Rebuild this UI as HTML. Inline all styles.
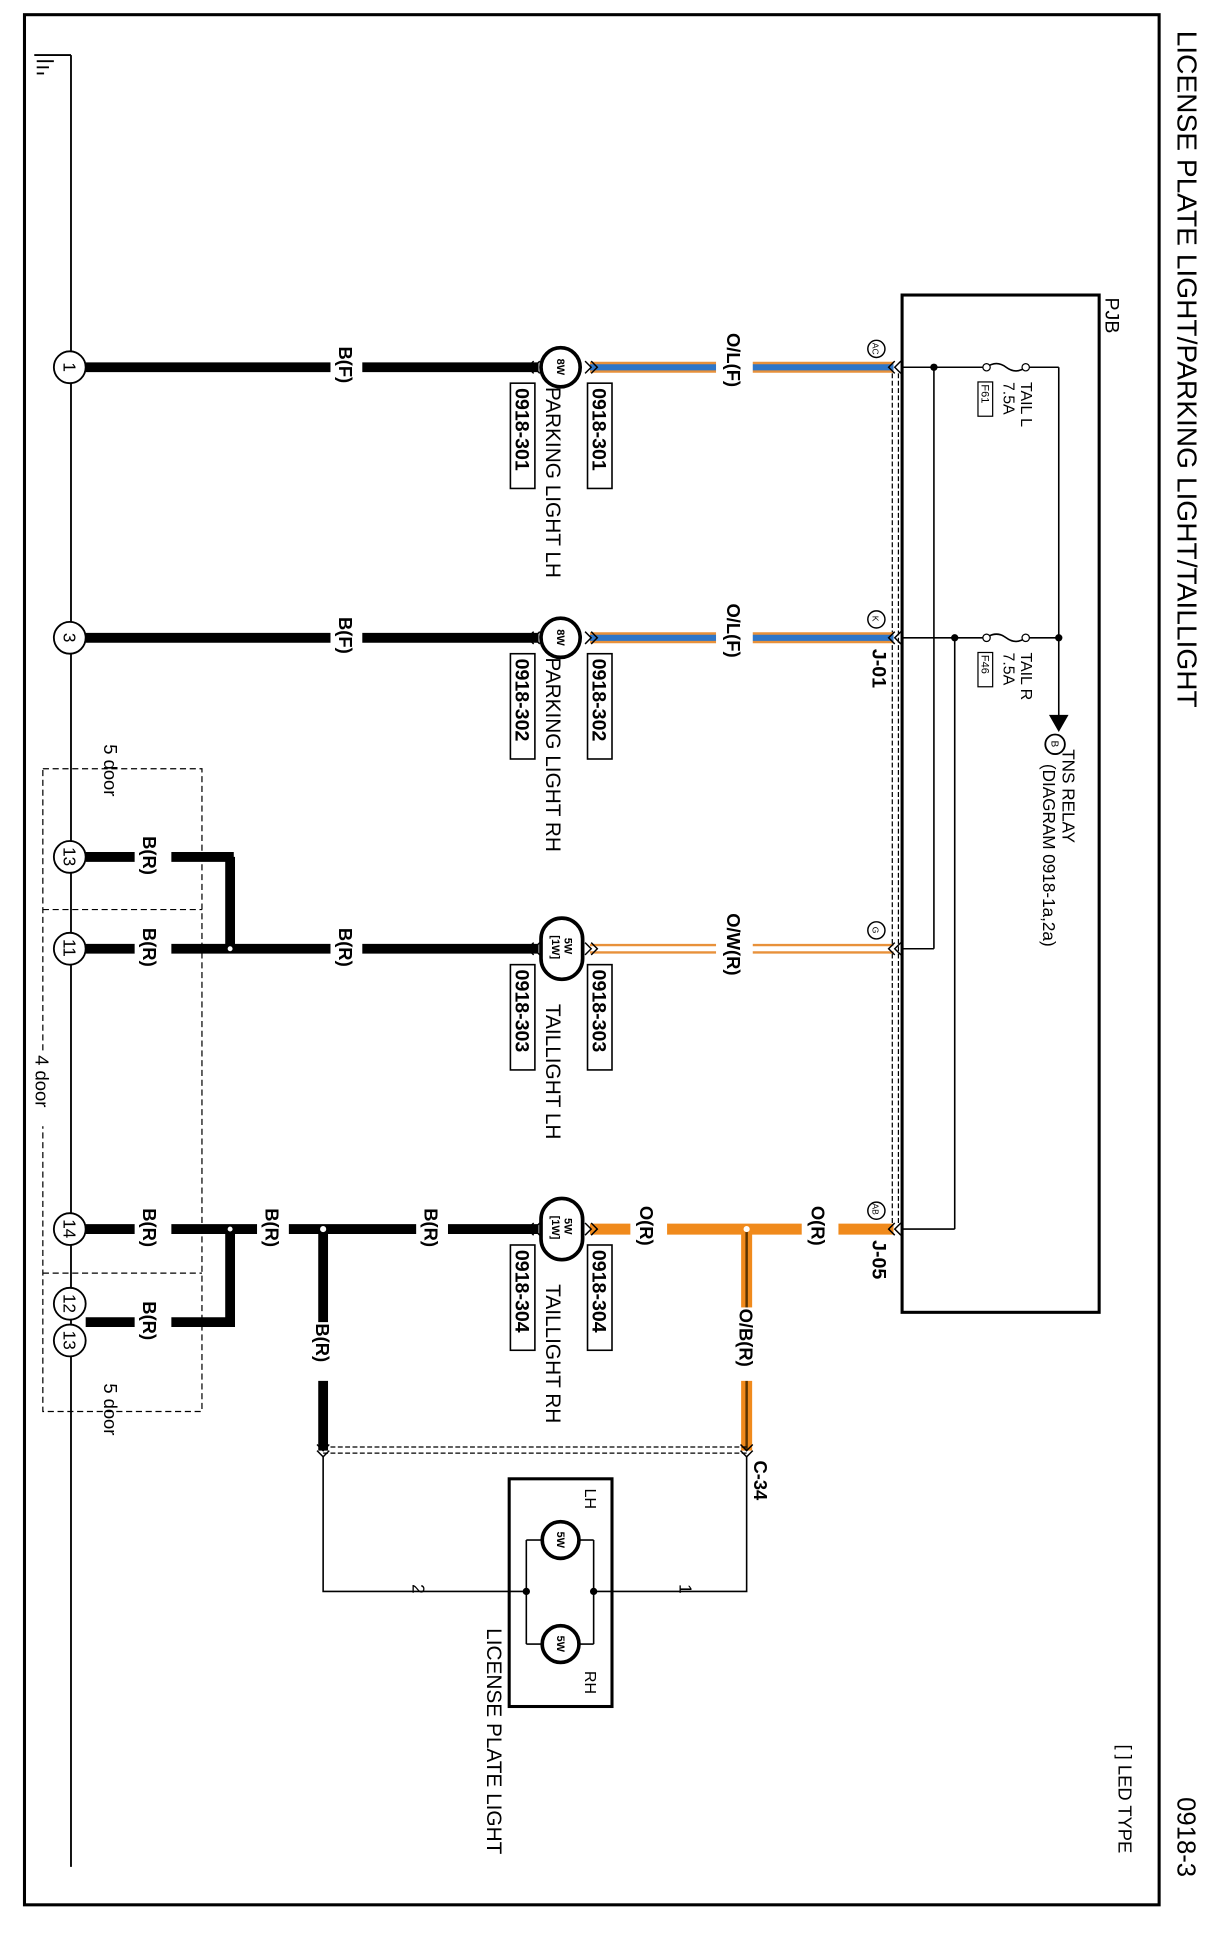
<!DOCTYPE html>
<html><head><meta charset="utf-8"><style>
html,body{margin:0;padding:0;background:#fff}
svg{display:block}
text{font-family:"Liberation Sans",sans-serif;fill:#000}
</style></head><body>
<svg width="1224" height="1944" viewBox="0 0 1000 1588" preserveAspectRatio="none" xmlns="http://www.w3.org/2000/svg">
<rect x="0" y="0" width="1000" height="1588" fill="#fff"/>
<rect x="20" y="12" width="927" height="1544" fill="none" stroke="#000" stroke-width="2.5"/>
<!-- title -->
<text transform="translate(962,25) rotate(90)" font-size="23">LICENSE PLATE LIGHT/PARKING LIGHT/TAILLIGHT</text>
<text transform="translate(962,1468) rotate(90)" font-size="21">0918-3</text>
<text transform="translate(914,1425) rotate(90)" font-size="15">[ ] LED TYPE</text>

<!-- ground -->
<line x1="58" y1="45" x2="58" y2="1525" stroke="#000" stroke-width="1.5"/>
<line x1="28" y1="45" x2="58" y2="45" stroke="#000" stroke-width="1.5"/>
<line x1="30" y1="50" x2="44" y2="50" stroke="#000" stroke-width="1.5"/>
<line x1="30" y1="55" x2="40" y2="55" stroke="#000" stroke-width="1.5"/>
<line x1="30" y1="60" x2="36" y2="60" stroke="#000" stroke-width="1.5"/>

<!-- PJB -->
<rect x="737" y="241" width="161" height="831" fill="none" stroke="#000" stroke-width="2.5"/>
<text transform="translate(903,243) rotate(90)" font-size="16">PJB</text>
<!-- dashed connector housing -->
<line x1="729" y1="305" x2="729" y2="1000" stroke="#000" stroke-width="1" stroke-dasharray="4,2"/>
<line x1="734" y1="305" x2="734" y2="1000" stroke="#000" stroke-width="1" stroke-dasharray="4,2"/>

<!-- internal PJB wiring -->
<g stroke="#000" stroke-width="1.3" fill="none">
<line x1="737" y1="300" x2="806" y2="300"/>
<line x1="737" y1="521" x2="806" y2="521"/>
<path d="M806,300 q8,-6 16,0 t16,0"/>
<path d="M806,521 q8,-6 16,0 t16,0"/>
<line x1="838" y1="300" x2="865" y2="300"/>
<line x1="838" y1="521" x2="865" y2="521"/>
<line x1="865" y1="300" x2="865" y2="585"/>
<line x1="763" y1="300" x2="763" y2="775"/>
<line x1="737" y1="775" x2="763" y2="775"/>
<line x1="780" y1="521" x2="780" y2="1004"/>
<line x1="737" y1="1004" x2="780" y2="1004"/>
</g>
<circle cx="763" cy="300" r="3" fill="#000"/>
<circle cx="780" cy="521" r="3" fill="#000"/>
<circle cx="865" cy="521" r="3" fill="#000"/>
<circle cx="806" cy="300" r="3" fill="#fff" stroke="#000"/>
<circle cx="838" cy="300" r="3" fill="#fff" stroke="#000"/>
<circle cx="806" cy="521" r="3" fill="#fff" stroke="#000"/>
<circle cx="838" cy="521" r="3" fill="#fff" stroke="#000"/>
<polygon points="857,584 873,584 865,598" fill="#000"/>
<circle cx="862" cy="608" r="8" fill="#fff" stroke="#000" stroke-width="1.5"/>
<text transform="translate(859,605) rotate(90)" font-size="8">B</text>
<text transform="translate(868,612) rotate(90)" font-size="14">TNS RELAY</text>
<text transform="translate(852,624) rotate(90)" font-size="14">(DIAGRAM 0918-1a,2a)</text>
<text transform="translate(834,312) rotate(90)" font-size="13">TAIL L</text>
<text transform="translate(820,312) rotate(90)" font-size="13">7.5A</text>
<rect x="799" y="312" width="12" height="28" fill="none" stroke="#000"/>
<text transform="translate(802,314) rotate(90)" font-size="9">F61</text>
<text transform="translate(834,533) rotate(90)" font-size="13">TAIL R</text>
<text transform="translate(820,533) rotate(90)" font-size="13">7.5A</text>
<rect x="799" y="533" width="12" height="28" fill="none" stroke="#000"/>
<text transform="translate(802,535) rotate(90)" font-size="9">F46</text>

<!-- blue/orange wires -->
<g>
<line x1="482" y1="300" x2="730" y2="300" stroke="#e8913a" stroke-width="9"/>
<line x1="482" y1="300" x2="730" y2="300" stroke="#2f76c7" stroke-width="5"/>
<line x1="482" y1="521" x2="730" y2="521" stroke="#e8913a" stroke-width="9"/>
<line x1="482" y1="521" x2="730" y2="521" stroke="#2f76c7" stroke-width="5"/>
<line x1="482" y1="775" x2="730" y2="775" stroke="#e8913a" stroke-width="8"/>
<line x1="482" y1="775" x2="730" y2="775" stroke="#fff" stroke-width="4"/>
<line x1="482" y1="1004" x2="730" y2="1004" stroke="#f08a1c" stroke-width="9"/>
<line x1="610" y1="1004" x2="610" y2="1185" stroke="#f08a1c" stroke-width="9"/>
<line x1="610" y1="1004" x2="610" y2="1185" stroke="#5a3300" stroke-width="2"/>
</g>
<!-- black wires -->
<g stroke="#000" stroke-width="8">
<line x1="70" y1="300" x2="440" y2="300"/>
<line x1="70" y1="521" x2="440" y2="521"/>
<line x1="70" y1="775" x2="440" y2="775"/>
<line x1="70" y1="1004" x2="440" y2="1004"/>
<line x1="70" y1="700" x2="191" y2="700"/>
<line x1="188" y1="700" x2="188" y2="775"/>
<line x1="70" y1="1080" x2="191" y2="1080"/>
<line x1="188" y1="1004" x2="188" y2="1084"/>
<line x1="264" y1="1004" x2="264" y2="1185"/>
</g>
<circle cx="188" cy="775" r="2" fill="#fff"/>
<circle cx="188" cy="1004" r="2" fill="#fff"/>
<circle cx="264" cy="1004" r="2.5" fill="#fff"/>
<circle cx="610" cy="1004" r="2.5" fill="#fff"/>

<!-- wire label gaps -->
<g fill="#fff">
<rect x="270" y="282" width="26" height="38"/><rect x="270" y="503" width="26" height="38"/>
<rect x="270" y="757" width="26" height="38"/><rect x="340" y="986" width="26" height="38"/>
<rect x="210" y="986" width="26" height="38"/>
<rect x="110" y="682" width="30" height="38"/><rect x="110" y="757" width="30" height="38"/>
<rect x="110" y="986" width="30" height="38"/><rect x="110" y="1062" width="30" height="38"/>
<rect x="585" y="270" width="30" height="60"/><rect x="585" y="491" width="30" height="60"/>
<rect x="585" y="745" width="30" height="60"/><rect x="655" y="984" width="30" height="40"/>
<rect x="515" y="984" width="30" height="40"/>
<rect x="250" y="1080" width="28" height="48"/><rect x="596" y="1068" width="28" height="60"/>
</g>
<g font-size="15" font-weight="bold">
<text transform="translate(277,283) rotate(90)">B(F)</text>
<text transform="translate(277,504) rotate(90)">B(F)</text>
<text transform="translate(277,758) rotate(90)">B(R)</text>
<text transform="translate(347,987) rotate(90)">B(R)</text>
<text transform="translate(217,987) rotate(90)">B(R)</text>
<text transform="translate(117,683) rotate(90)">B(R)</text>
<text transform="translate(117,758) rotate(90)">B(R)</text>
<text transform="translate(117,987) rotate(90)">B(R)</text>
<text transform="translate(117,1063) rotate(90)">B(R)</text>
<text transform="translate(594,272) rotate(90)">O/L(F)</text>
<text transform="translate(594,493) rotate(90)">O/L(F)</text>
<text transform="translate(594,746) rotate(90)">O/W(R)</text>
<text transform="translate(663,985) rotate(90)">O(R)</text>
<text transform="translate(523,985) rotate(90)">O(R)</text>
<text transform="translate(258,1081) rotate(90)">B(R)</text>
<text transform="translate(604,1069) rotate(90)">O/B(R)</text>
</g>

<!-- connector chevrons -->
<g stroke="#000" stroke-width="1.2" fill="none">
<path d="M436,295 l-5,5 l5,5 M441,295 l-5,5 l5,5"/>
<path d="M436,516 l-5,5 l5,5 M441,516 l-5,5 l5,5"/>
<path d="M436,770 l-5,5 l5,5 M441,770 l-5,5 l5,5"/>
<path d="M436,999 l-5,5 l5,5 M441,999 l-5,5 l5,5"/>
<path d="M478,295 l5,5 l-5,5 M483,295 l5,5 l-5,5"/>
<path d="M478,516 l5,5 l-5,5 M483,516 l5,5 l-5,5"/>
<path d="M478,770 l5,5 l-5,5 M483,770 l5,5 l-5,5"/>
<path d="M478,999 l5,5 l-5,5 M483,999 l5,5 l-5,5"/>
<path d="M731,295 l-5,5 l5,5 M736,295 l-5,5 l5,5"/>
<path d="M731,516 l-5,5 l5,5 M736,516 l-5,5 l5,5"/>
<path d="M731,770 l-5,5 l5,5 M736,770 l-5,5 l5,5"/>
<path d="M731,999 l-5,5 l5,5 M736,999 l-5,5 l5,5"/>
<path d="M259,1180 l5,5 l5,-5 M259,1185 l5,5 l5,-5"/>
<path d="M605,1180 l5,5 l5,-5 M605,1185 l5,5 l5,-5"/>
</g>
<!-- pin circles at PJB -->
<g fill="#fff" stroke="#000" stroke-width="1.2">
<circle cx="716" cy="285" r="7"/><circle cx="716" cy="506" r="7"/><circle cx="716" cy="760" r="7"/><circle cx="716" cy="989" r="7"/>
</g>
<g font-size="7">
<text transform="translate(713,280) rotate(90)">AC</text>
<text transform="translate(713,503) rotate(90)">K</text>
<text transform="translate(713,757) rotate(90)">G</text>
<text transform="translate(713,983) rotate(90)">AB</text>
</g>
<text transform="translate(713,530) rotate(90)" font-size="16" font-weight="bold">J-01</text>
<text transform="translate(713,1013) rotate(90)" font-size="16" font-weight="bold">J-05</text>
<text transform="translate(616,1193) rotate(90)" font-size="15" font-weight="bold">C-34</text>

<!-- bulbs -->
<g fill="#fff" stroke="#000" stroke-width="3">
<circle cx="458" cy="300" r="16"/>
<circle cx="458" cy="521" r="16"/>
<rect x="442" y="750" width="34" height="50" rx="17"/>
<rect x="442" y="979" width="34" height="50" rx="17"/>
</g>
<g font-size="9" font-weight="bold">
<text transform="translate(455,293) rotate(90)">8W</text>
<text transform="translate(455,514) rotate(90)">8W</text>
<text transform="translate(461,766) rotate(90)">5W</text>
<text transform="translate(451,764) rotate(90)">[1W]</text>
<text transform="translate(461,995) rotate(90)">5W</text>
<text transform="translate(451,993) rotate(90)">[1W]</text>
</g>
<!-- connector code boxes -->
<g fill="none" stroke="#000" stroke-width="1.3">
<rect x="480" y="313" width="20" height="86"/><rect x="417" y="313" width="20" height="86"/>
<rect x="480" y="534" width="20" height="86"/><rect x="417" y="534" width="20" height="86"/>
<rect x="480" y="788" width="20" height="86"/><rect x="417" y="788" width="20" height="86"/>
<rect x="480" y="1017" width="20" height="86"/><rect x="417" y="1017" width="20" height="86"/>
</g>
<g font-size="16" font-weight="bold">
<text transform="translate(484,317) rotate(90)">0918-301</text>
<text transform="translate(421,317) rotate(90)">0918-301</text>
<text transform="translate(484,538) rotate(90)">0918-302</text>
<text transform="translate(421,538) rotate(90)">0918-302</text>
<text transform="translate(484,792) rotate(90)">0918-303</text>
<text transform="translate(421,792) rotate(90)">0918-303</text>
<text transform="translate(484,1021) rotate(90)">0918-304</text>
<text transform="translate(421,1021) rotate(90)">0918-304</text>
</g>
<g font-size="17">
<text transform="translate(446,316) rotate(90)">PARKING LIGHT LH</text>
<text transform="translate(446,537) rotate(90)">PARKING LIGHT RH</text>
<text transform="translate(446,820) rotate(90)">TAILLIGHT LH</text>
<text transform="translate(446,1049) rotate(90)">TAILLIGHT RH</text>
</g>

<!-- ground circles -->
<g fill="#fff" stroke="#000" stroke-width="1.5">
<circle cx="57" cy="300" r="13"/><circle cx="57" cy="521" r="13"/>
<circle cx="57" cy="700" r="13"/><circle cx="57" cy="775" r="13"/>
<circle cx="57" cy="1004" r="13"/><circle cx="57" cy="1065" r="13"/><circle cx="57" cy="1095" r="13"/>
</g>
<g font-size="14">
<text transform="translate(52,296) rotate(90)">1</text>
<text transform="translate(52,517) rotate(90)">3</text>
<text transform="translate(52,692) rotate(90)">13</text>
<text transform="translate(52,767) rotate(90)">11</text>
<text transform="translate(52,996) rotate(90)">14</text>
<text transform="translate(52,1057) rotate(90)">12</text>
<text transform="translate(52,1087) rotate(90)">13</text>
</g>
<!-- dashed option boxes -->
<g fill="none" stroke="#000" stroke-width="1" stroke-dasharray="5,3">
<rect x="35" y="628" width="130" height="525"/>
<line x1="35" y1="743" x2="165" y2="743"/>
<line x1="35" y1="1040" x2="165" y2="1040"/>
</g>
<rect x="24" y="860" width="20" height="60" fill="#fff"/>
<text transform="translate(29,862) rotate(90)" font-size="15">4 door</text>
<text transform="translate(85,608) rotate(90)" font-size="15">5 door</text>
<text transform="translate(85,1130) rotate(90)" font-size="15">5 door</text>

<!-- dashed C-34 housing -->
<line x1="264" y1="1182" x2="610" y2="1182" stroke="#000" stroke-width="1" stroke-dasharray="4,2"/>
<line x1="264" y1="1187" x2="610" y2="1187" stroke="#000" stroke-width="1" stroke-dasharray="4,2"/>

<!-- license plate light -->
<g stroke="#000" stroke-width="1.3" fill="none">
<polyline points="264,1190 264,1300 430,1300"/>
<polyline points="610,1190 610,1300 485,1300"/>
<line x1="430" y1="1258" x2="430" y2="1343"/>
<line x1="485" y1="1258" x2="485" y2="1343"/>
<line x1="430" y1="1258" x2="442" y2="1258"/><line x1="474" y1="1258" x2="485" y2="1258"/>
<line x1="430" y1="1343" x2="442" y2="1343"/><line x1="474" y1="1343" x2="485" y2="1343"/>
</g>
<rect x="416" y="1208" width="84" height="186" fill="none" stroke="#000" stroke-width="2.5"/>
<circle cx="430" cy="1300" r="3" fill="#000"/><circle cx="485" cy="1300" r="3" fill="#000"/>
<circle cx="458" cy="1258" r="15" fill="#fff" stroke="#000" stroke-width="3"/>
<circle cx="458" cy="1343" r="15" fill="#fff" stroke="#000" stroke-width="3"/>
<text transform="translate(455,1251) rotate(90)" font-size="9" font-weight="bold">5W</text>
<text transform="translate(455,1336) rotate(90)" font-size="9" font-weight="bold">5W</text>
<text transform="translate(478,1216) rotate(90)" font-size="13">LH</text>
<text transform="translate(478,1365) rotate(90)" font-size="13">RH</text>
<text transform="translate(337,1294) rotate(90)" font-size="14">2</text>
<text transform="translate(555,1294) rotate(90)" font-size="14">1</text>
<text transform="translate(398,1330) rotate(90)" font-size="17">LICENSE PLATE LIGHT</text>
</svg>
</body></html>
